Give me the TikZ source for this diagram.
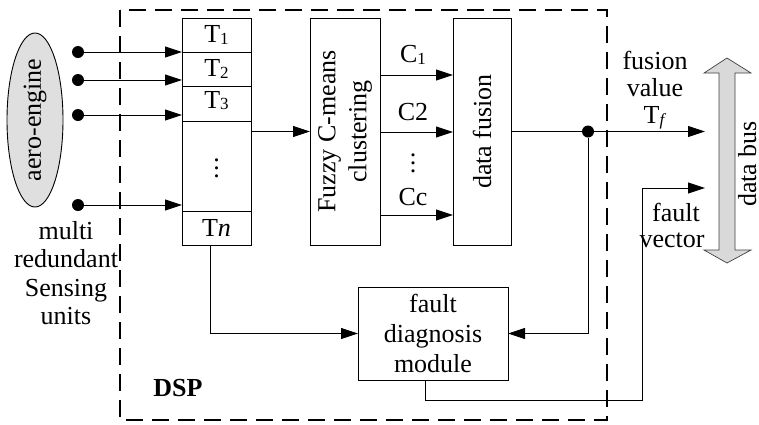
\documentclass[tikz,border=0pt]{standalone}
\usepackage{fontspec}
\setmainfont{Liberation Serif}
\usetikzlibrary{arrows.meta,shapes.geometric}
\newcommand{\sbs}[1]{{\fontsize{17}{17}\selectfont\raisebox{-1.5pt}{#1}}}
\begin{document}
\begin{tikzpicture}[x=1pt,y=-1pt,
  font=\fontsize{26}{28.5}\selectfont,
  line width=0.9pt,
  every node/.style={inner sep=0pt,outer sep=0pt},
  box/.style={draw, rectangle, anchor=north west, align=center},
  arr/.style={-{Triangle[length=17pt,width=11pt]}},
  dot/.style={circle, fill=black, minimum size=12pt},
  vd/.style={align=center, font=\fontsize{26}{8}\selectfont},
  lbl/.style={align=center}]
\useasboundingbox (0,0) rectangle (759,424);
% DSP dashed frame
\draw[line width=2pt, dash pattern=on 17pt off 9pt] (120,10) rectangle (607,420);
% aero-engine
\node[ellipse, draw, fill=gray!25, minimum width=56pt, minimum height=174pt] (eng) at (35,120) {};
\node[rotate=90] at (eng.center) {aero-engine};
% T column cells
\node[box, minimum width=69pt, minimum height=34pt] (t1) at (182,18) {};
\node at (t1.center) {T\sbs{1}};
\node[box, minimum width=69pt, minimum height=34pt] (t2) at (182,52) {};
\node at (t2.center) {T\sbs{2}};
\node[box, minimum width=69pt, minimum height=35pt] (t3) at (182,86) {};
\node at ([yshift=3pt]t3.center) {T\sbs{3}};
\node[box, minimum width=69pt, minimum height=90pt] (td) at (182,121) {};
\node[vd] at ([yshift=-2pt]td.center) {.\\.\\.};
\node[box, minimum width=69pt, minimum height=34pt] (tn) at (182,211) {};
\node at (tn.center) {T\textit{n}};
% dots and input arrows
\node[dot] (d1) at (78,52) {};
\node[dot] (d2) at (78,80) {};
\node[dot] (d3) at (78,115) {};
\node[dot] (d4) at (78,205) {};
\draw[arr] (d1) -- (d1 -| t1.west);
\draw[arr] (d2) -- (d2 -| t1.west);
\draw[arr] (d3) -- (d3 -| t1.west);
\draw[arr] (d4) -- (d4 -| t1.west);
% fuzzy C-means
\node[box, minimum width=70pt, minimum height=227pt] (fcm) at (310,18) {};
\node[rotate=90, align=center, font=\fontsize{26}{31}\selectfont] at (fcm.center) {Fuzzy C-means\\clustering};
\draw[arr] (fcm.west -| td.east) -- (fcm.west);
% data fusion
\node[box, minimum width=58pt, minimum height=227pt] (df) at (453,18) {};
\node[rotate=90] at (df.center) {data fusion};
% C arrows
\coordinate (c1) at (380,75);
\coordinate (c2) at (380,132);
\coordinate (cc) at (380,215);
\draw[arr] (c1) -- (c1 -| df.west);
\draw[arr] (c2) -- (c2 -| df.west);
\draw[arr] (cc) -- (cc -| df.west);
\node (lc1) at (413,55) {C\sbs{1}};
\node (lc2) at (413,112) {C2};
\node[vd] (lcd) at (413,163) {.\\.\\.};
\node (lcc) at (413,197) {Cc};
% fault diagnosis
\node[box, minimum width=150pt, minimum height=93pt] (fd) at (358,287) {};
\node[lbl, font=\fontsize{26}{30}\selectfont] at (fd.center) {fault\\diagnosis\\module};
% fusion output
\node[dot] (jd) at (588,131.5) {};
\coordinate (bus1) at (705,131.5);
\draw (df.east) -- (jd);
\draw[arr] (jd) -- (bus1);
\draw[arr] (jd) |- (fd.east);
% Tn to fault diagnosis
\draw[arr] ([xshift=-6.5pt]tn.south) |- (fd.west);
% fault vector
\coordinate (bus2) at (705,188);
\draw[arr] ([xshift=-8pt]fd.south) -- ++(0,20) -| (642,188) -- (bus2);
% labels
\node[lbl] at (655,60) {fusion};
\node[lbl] at (655,88) {value};
\node[lbl] at (655,118) {T{\fontsize{17}{17}\selectfont\raisebox{-1.5pt}{\textit{f}}}};
\node[lbl] at (676,212) {fault};
\node[lbl] at (672,240) {vector};
\node[lbl] at (66,273) {multi\\redundant\\Sensing\\units};
\node[font=\fontsize{26}{28}\selectfont\bfseries] at (178,388) {DSP};
% data bus
\draw[fill=gray!30, draw=black!75, line width=0.7pt]
  (727,58) -- (751,73) -- (735,73) -- (735,250) -- (751,250) -- (727,263)
  -- (704,250) -- (719,250) -- (719,73) -- (704,73) -- cycle;
\coordinate (bus) at (727,160);
\node[rotate=90, anchor=base] at (756,164) {data bus};
\end{tikzpicture}
\end{document}
